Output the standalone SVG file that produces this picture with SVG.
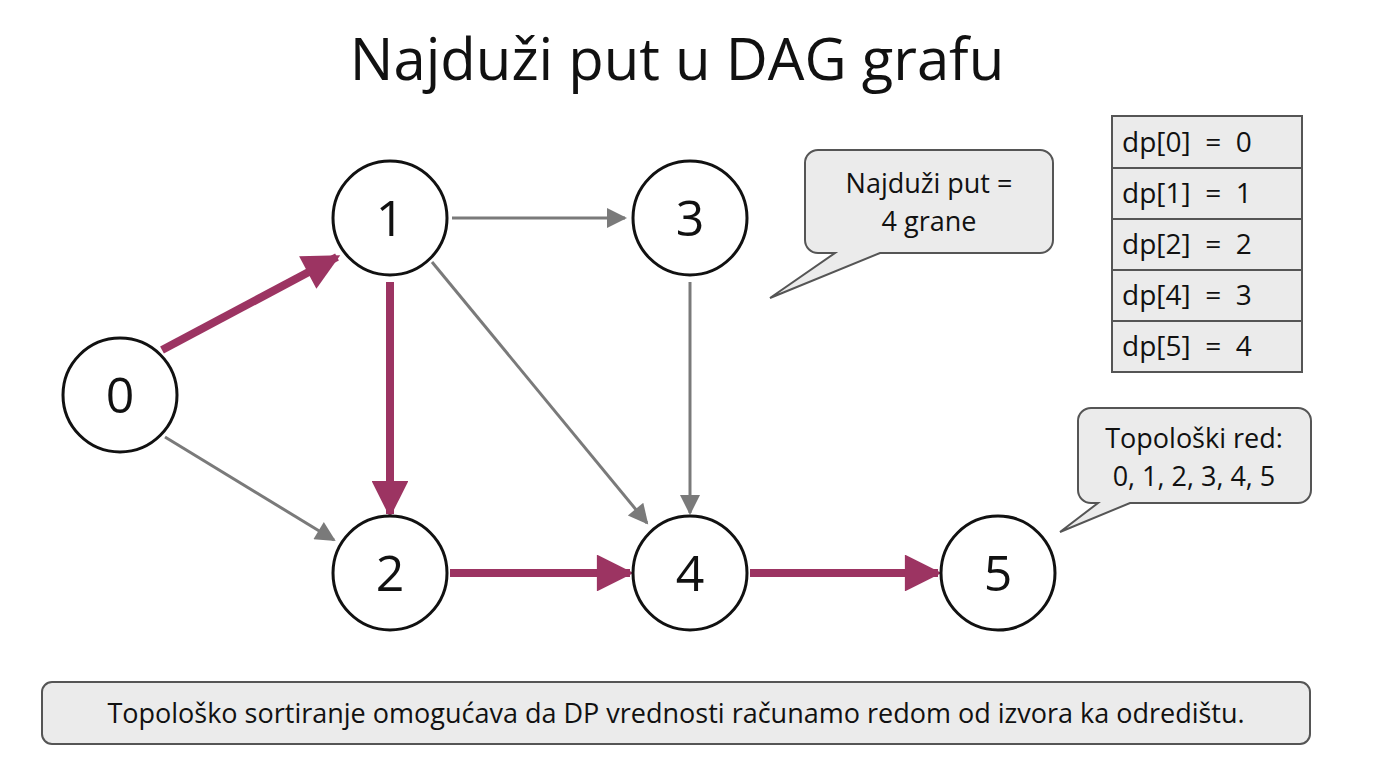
<svg xmlns="http://www.w3.org/2000/svg" width="1386" height="778" viewBox="0 0 1386 778">
<style>
text{font-family:"Open Sans","Noto Sans",sans-serif;fill:#111}
.n circle{fill:#fff;stroke:#111;stroke-width:3}
.n text{font-size:50px;text-anchor:middle}
.g{stroke:#7a7a7a;stroke-width:3;fill:none;marker-end:url(#ag)}
.r{stroke:#9c3462;stroke-width:8;fill:none;marker-end:url(#ar)}
.box{fill:#ebebeb;stroke:#555;stroke-width:2}
.t{font-size:27px;text-anchor:middle}
.tb{font-size:28px}
</style>
<defs>
<marker id="ag" viewBox="0 0 10 10" refX="9" refY="5" markerWidth="22" markerHeight="20" markerUnits="userSpaceOnUse" orient="auto"><path d="M0,0L10,5L0,10z" fill="#7a7a7a"/></marker>
<marker id="ar" viewBox="0 0 10 10" refX="9" refY="5" markerWidth="4.8" markerHeight="4.6" orient="auto"><path d="M0,0L10,5L0,10z" fill="#9c3462"/></marker>
</defs>
<rect width="1386" height="778" fill="#fff"/>
<text x="677" y="80" font-size="58" text-anchor="middle">Najduži put u DAG grafu</text>
<g id="edges">
<line class="g" x1="452" y1="218" x2="625" y2="218"/>
<line class="g" x1="165" y1="437" x2="334" y2="540"/>
<line class="g" x1="432" y1="262" x2="647" y2="523"/>
<line class="g" x1="690" y1="282" x2="690" y2="513"/>
<line class="r" x1="162" y1="350" x2="337" y2="257"/>
<line class="r" x1="390" y1="282" x2="390" y2="514"/>
<line class="r" x1="450" y1="573" x2="630" y2="573"/>
<line class="r" x1="750" y1="573" x2="938" y2="573"/>
</g>
<g id="n0" class="n"><circle cx="120" cy="395" r="57"/><text x="120" y="413">0</text></g>
<g id="n1" class="n"><circle cx="390" cy="218" r="57"/><text x="390" y="236">1</text></g>
<g id="n3" class="n"><circle cx="690" cy="218" r="57"/><text x="690" y="236">3</text></g>
<g id="n2" class="n"><circle cx="390" cy="573" r="57"/><text x="390" y="591">2</text></g>
<g id="n4" class="n"><circle cx="690" cy="573" r="57"/><text x="690" y="591">4</text></g>
<g id="n5" class="n"><circle cx="998" cy="573" r="57"/><text x="998" y="591">5</text></g>
<g id="callout1">
<path class="box" d="M818,150H1040A13,13 0 0 1 1053,163V240A13,13 0 0 1 1040,253H880L770,298L835,253H818A13,13 0 0 1 805,240V163A13,13 0 0 1 818,150Z"/>
<text class="t" x="929" y="193">Najduži put =</text>
<text class="t" x="929" y="231">4 grane</text>
</g>
<g id="table">
<rect class="box" x="1112" y="116" width="190" height="52"/>
<rect class="box" x="1112" y="168" width="190" height="51"/>
<rect class="box" x="1112" y="219" width="190" height="51"/>
<rect class="box" x="1112" y="270" width="190" height="51"/>
<rect class="box" x="1112" y="321" width="190" height="51"/>
<text class="tb" x="1122" y="152" xml:space="preserve">dp[0]  =  0</text>
<text class="tb" x="1122" y="203" xml:space="preserve">dp[1]  =  1</text>
<text class="tb" x="1122" y="254" xml:space="preserve">dp[2]  =  2</text>
<text class="tb" x="1122" y="305" xml:space="preserve">dp[4]  =  3</text>
<text class="tb" x="1122" y="356" xml:space="preserve">dp[5]  =  4</text>
</g>
<g id="callout2">
<path class="box" d="M1091,408H1298A13,13 0 0 1 1311,421V490A13,13 0 0 1 1298,503H1130L1060,532L1098,503H1091A13,13 0 0 1 1078,490V421A13,13 0 0 1 1091,408Z"/>
<text class="t" x="1194" y="448">Topološki red:</text>
<text class="t" x="1194" y="486">0, 1, 2, 3, 4, 5</text>
</g>
<g id="note">
<rect class="box" x="42" y="682" width="1268" height="62" rx="10"/>
<text class="t" x="676" y="723">Topološko sortiranje omogućava da DP vrednosti računamo redom od izvora ka odredištu.</text>
</g>
</svg>
